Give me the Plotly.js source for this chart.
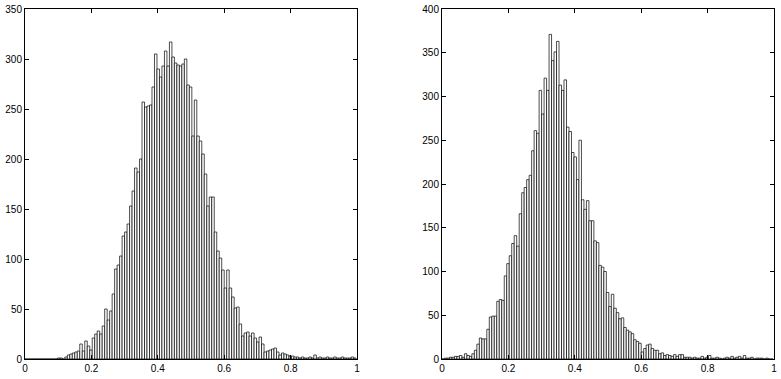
<!DOCTYPE html>
<html>
<head>
<meta charset="utf-8">
<script src="https://cdn.plot.ly/plotly-3.0.1.min.js"></script>
<style>
html,body{margin:0;padding:0;background:#fff;}
#chart{width:781px;height:379px;}
</style>
</head>
<body>
<div id="chart"></div>
<script>
// Histogram bin width (bins start at 0)
const binWidth = 0.0075;

// Left histogram counts per bin
const leftCounts = [
  0,0,0,0,0,0,0,0,0,0,0,0,0,
  1,1,0,2,4,5,6,7,8,15,8,18,13,9,21,25,28,25,33,50,39,48,65,90,94,103,123,127,
  135,153,168,191,187,200,257,252,253,254,272,305,290,282,293,308,293,317,302,296,
  294,293,295,300,274,272,223,259,223,218,205,185,153,162,162,127,108,101,89,71,
  89,71,62,51,52,35,23,26,27,23,26,21,17,22,15,7,8,9,10,11,7,4,6,5,4,3,3,2,2,1,
  2,1,1,2,1,4,1,2,1,1,2,1,1,2,1,1,2,1,1,1,2,1
];

// Right histogram counts per bin
const rightCounts = [
  0,1,1,2,2,3,3,4,2,6,4,3,6,10,17,24,23,23,34,48,49,49,66,68,67,95,109,118,132,
  141,129,166,190,196,205,210,238,261,258,307,280,321,307,371,341,351,363,313,307,
  319,265,260,236,231,205,250,182,171,181,158,158,135,133,107,105,100,76,60,74,58,
  53,46,47,36,33,31,29,22,20,18,8,12,16,17,12,10,10,6,7,4,5,4,3,5,3,5,5,2,2,2,1,2,
  1,1,3,1,2,4,1,1,2,1,0,1,2,1,3,1,2,3,1,4,1,1,2,0,1,1,1,0,1,0,0
];

const xTickVals = [0, 0.2, 0.4, 0.6, 0.8, 1];
const xTickText = ['0', '0.2', '0.4', '0.6', '0.8', '1'];
const leftYTicks = [0, 50, 100, 150, 200, 250, 300, 350];
const rightYTicks = [0, 50, 100, 150, 200, 250, 300, 350, 400];

function centers(arr) { return arr.map((_, i) => (i + 0.5) * binWidth); }

const barStyle = {
  color: '#ffffff',
  line: { color: '#000000', width: 0.7 }
};

const traces = [
  { type: 'bar', x: centers(leftCounts), y: leftCounts, width: binWidth,
    xaxis: 'x', yaxis: 'y', marker: barStyle, hoverinfo: 'skip' },
  { type: 'bar', x: centers(rightCounts), y: rightCounts, width: binWidth,
    xaxis: 'x2', yaxis: 'y2', marker: barStyle, hoverinfo: 'skip' }
];

const font = { family: 'Liberation Sans Narrow, Liberation Sans, Arial, sans-serif', size: 10, color: '#000' };

function axisBase(extra) {
  return Object.assign({
    showline: true, linecolor: '#000', linewidth: 1, mirror: 'ticks',
    ticks: 'inside', ticklen: 4, tickwidth: 1, tickcolor: '#000',
    showgrid: false, zeroline: false, tickfont: font, fixedrange: true
  }, extra);
}

const layout = {
  width: 781, height: 379,
  margin: { l: 0, r: 0, t: 9, b: 20 },
  paper_bgcolor: '#fff', plot_bgcolor: '#fff',
  showlegend: false, bargap: 0,
  font: font,
  xaxis: axisBase({ domain: [25/781, 357/781], range: [0, 1], tickvals: xTickVals, ticktext: xTickText, anchor: 'y' }),
  yaxis: axisBase({ domain: [0, 1], range: [0, 350], tickvals: leftYTicks, anchor: 'x' }),
  xaxis2: axisBase({ domain: [442/781, 774/781], range: [0, 1], tickvals: xTickVals, ticktext: xTickText, anchor: 'y2' }),
  yaxis2: axisBase({ domain: [0, 1], range: [0, 400], tickvals: rightYTicks, anchor: 'x2' })
};

Plotly.newPlot('chart', traces, layout, { staticPlot: true, displayModeBar: false });
</script>
</body>
</html>
